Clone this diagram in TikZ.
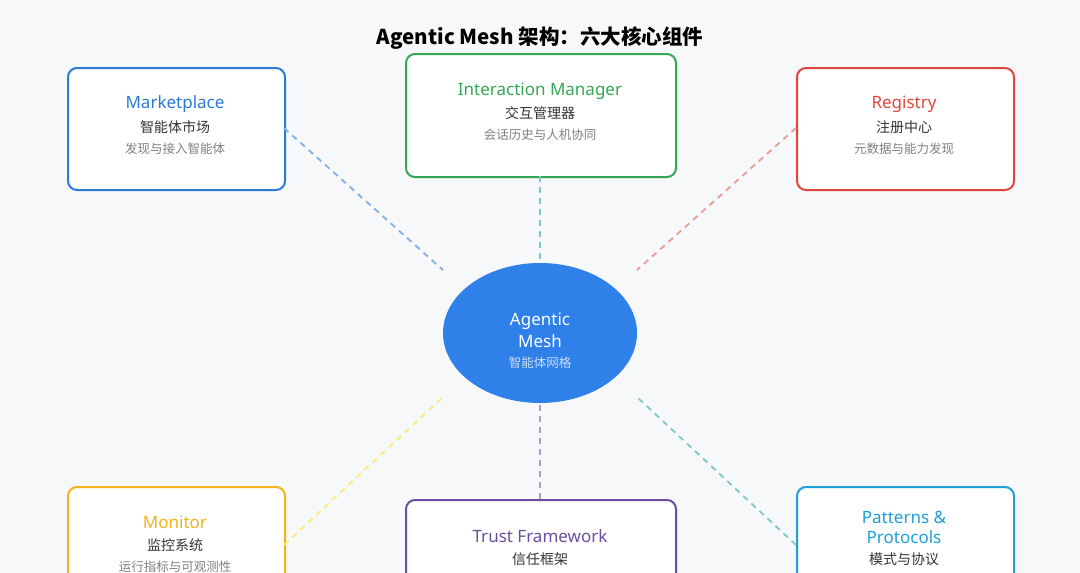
\documentclass[tikz,border=0pt]{standalone}
\usetikzlibrary{shapes.geometric}
\usepackage{fontspec}
\setmainfont{Noto Sans}
\newfontfamily\cjk{Noto Sans CJK SC}
\begin{document}
\begin{tikzpicture}[x=1pt,y=-1pt,
 box/.style={draw,line width=2pt,rounded corners=9pt,fill=white,anchor=north west},
 ttl/.style={font=\fontsize{17}{19}\selectfont},
 cn/.style={font=\cjk\fontsize{14}{16}\selectfont,text=black!80},
 sub/.style={font=\cjk\fontsize{12.5}{14}\selectfont,text=black!50},
 dl/.style={line width=1.8pt,dash pattern=on 6pt off 5pt}]
\definecolor{cB}{HTML}{2B7BD6}\definecolor{cG}{HTML}{34A853}\definecolor{cR}{HTML}{E0463C}
\definecolor{cO}{HTML}{F6B21B}\definecolor{cP}{HTML}{6B4FA0}\definecolor{cC}{HTML}{1E9FD8}
\definecolor{bg}{HTML}{F7F8FA}\definecolor{cE}{HTML}{2F80E8}
\useasboundingbox (0,0) rectangle (1080,573);
\fill[bg] (0,0) rectangle (1080,573);
\node[font=\cjk\bfseries\fontsize{20.5}{22}\selectfont] (title) at (540,38) {Agentic Mesh 架构：六大核心组件};
% boxes
\node[box,draw=cB,minimum width=217pt,minimum height=122pt] (mk) at (67,67) {};
\node[box,draw=cG,minimum width=270pt,minimum height=123pt] (im) at (405,53) {};
\node[box,draw=cR,minimum width=217pt,minimum height=122pt] (rg) at (796,67) {};
\node[box,draw=cO,minimum width=217pt,minimum height=122pt] (mo) at (67,486) {};
\node[box,draw=cP,minimum width=270pt,minimum height=123pt] (tf) at (405,499) {};
\node[box,draw=cC,minimum width=217pt,minimum height=122pt] (pp) at (796,486) {};
\node[ellipse,fill=cE,minimum width=194pt,minimum height=140pt,inner sep=0pt] (c) at (540,333) {};
% connectors
\coordinate (a1) at (443,270);\coordinate (a2) at (540,263);\coordinate (a3) at (637,270);
\coordinate (a4) at (443,397);\coordinate (a5) at (540,405);\coordinate (a6) at (637,397);
\coordinate (b1) at (284,128);\coordinate (b2) at (540,176);\coordinate (b3) at (796,128);
\coordinate (b4) at (284,545);\coordinate (b5) at (540,499);\coordinate (b6) at (796,545);
\draw[dl,cB!60] (b1) -- (a1);
\draw[dl,cG!45!cC!60] (b2) -- (a2);
\draw[dl,cR!55] (b3) -- (a3);
\draw[dl,cO!50!yellow!55] (b4) -- (a4);
\draw[dl,cP!55] (b5) -- (a5);
\draw[dl,cC!55!cG!60] (b6) -- (a6);
% texts
\node[ttl,text=cB] (t1) at (175,104) {Marketplace};
\node[cn] (c1) at (175,127) {智能体市场};
\node[sub] (s1) at (175,149) {发现与接入智能体};
\node[ttl,text=cG] (t2) at (540,91) {Interaction Manager};
\node[cn] (c2) at (540,113) {交互管理器};
\node[sub] (s2) at (540,135) {会话历史与人机协同};
\node[ttl,text=cR] (t3) at (904,104) {Registry};
\node[cn] (c3) at (904,127) {注册中心};
\node[sub] (s3) at (904,149) {元数据与能力发现};
\node[ttl,text=cO] (t4) at (175,522) {Monitor};
\node[cn] (c4) at (175,545) {监控系统};
\node[sub] (s4) at (175,567) {运行指标与可观测性};
\node[ttl,text=cP] (t5) at (540,536) {Trust Framework};
\node[cn] (c5) at (540,559) {信任框架};
\node[ttl,text=cC,align=center,font=\fontsize{17}{20}\selectfont] (t6) at (904,527) {Patterns \&\\Protocols};
\node[cn] (c6) at (904,559) {模式与协议};
\node[ttl,text=white,align=center,font=\fontsize{17}{22}\selectfont] (ct) at (540,330) {Agentic\\Mesh};
\node[sub,text=white!75!cE] (cs) at (540,363) {智能体网格};
\end{tikzpicture}
\end{document}
